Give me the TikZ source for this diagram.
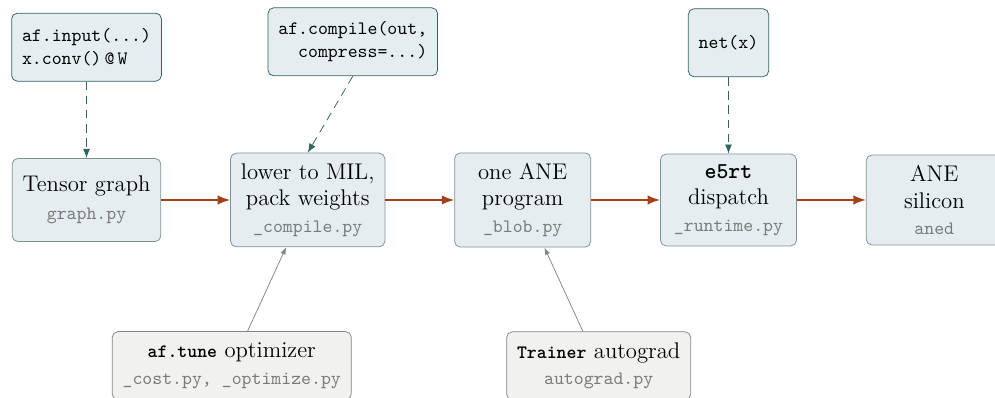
\documentclass[tikz,border=0pt]{standalone}
\usepackage{tikz}
\usetikzlibrary{arrows.meta, positioning}
\usepackage{xcolor}
\definecolor{StageFill}{HTML}{E6EDF0}
\definecolor{StageEdge}{HTML}{7D9296}
\definecolor{CallEdge}{HTML}{2F6461}
\definecolor{HelperFill}{HTML}{F1F1EF}
\definecolor{HelperEdge}{HTML}{858585}
\definecolor{FlowRed}{HTML}{A4401A}
\definecolor{FileGray}{HTML}{7A7A7A}
\tikzstyle{stage} = [rectangle, rounded corners=3pt, draw=StageEdge, fill=StageFill,
minimum width=2.53cm, minimum height=1.545cm, inner sep=5.5pt, align=center, font=\large]
\tikzstyle{call} = [rectangle, rounded corners=3pt, draw=CallEdge, fill=StageFill,
minimum height=1.265cm, inner sep=5.5pt, align=left, font=\ttfamily]
\tikzstyle{helper} = [rectangle, rounded corners=3pt, draw=HelperEdge, fill=HelperFill,
minimum height=1.265cm, inner sep=5.5pt, align=center, font=\large]
\tikzstyle{flow} = [-{Latex[scale=1]}, thick, draw=FlowRed]
\tikzstyle{hook} = [-{Latex[scale=1]}, draw=CallEdge, dash pattern=on 4.5pt off 3pt]
\tikzstyle{feed} = [-{Latex[scale=0.8]}, thin, draw=HelperEdge]
\newcommand{\srcfile}[1]{{\normalsize\ttfamily\color{FileGray}#1}}
\newcommand{\api}[1]{{\normalsize\ttfamily\bfseries #1}}

\begin{document}
\begin{tikzpicture}
   \useasboundingbox (-1.609,3.719) rectangle (16.894,-3.682);
   % pipeline
   \node[stage] (graph) at (0,0) {Tensor graph\\[1pt]\srcfile{graph.py}};
   \node[stage, right=1.283cm of graph] (lower) {lower to MIL,\\ pack weights\\\srcfile{\_compile.py}};
   \node[stage, right=1.283cm of lower] (blob) {one ANE\\ program\\\srcfile{\_blob.py}};
   \node[stage, right=1.283cm of blob] (e5rt) {{\ttfamily\bfseries e5rt}\\ dispatch\\\srcfile{\_runtime.py}};
   \node[stage, right=1.283cm of e5rt] (silicon) {ANE\\ silicon\\\srcfile{aned}};
   % user calls
   \node[call, above=1.423cm of graph] (input) {af.input(...)\\ x.conv()\,@\,W};
   \node[call, above=1.423cm of lower, xshift=0.837cm] (compile) {af.compile(out,\\ ~~compress=...)};
   \node[call, above=1.423cm of e5rt] (netx) {net(x)};
   % helpers
   \node[helper, below=1.562cm of lower, xshift=-1.413cm] (tune) {\api{af.tune} optimizer\\ \srcfile{\_cost.py, \_optimize.py}};
   \node[helper, below=1.562cm of blob, xshift=1.413cm] (trainer) {\api{Trainer} autograd\\ \srcfile{autograd.py}};
   \draw[flow] (graph) -- (lower);
   \draw[flow] (lower) -- (blob);
   \draw[flow] (blob) -- (e5rt);
   \draw[flow] (e5rt) -- (silicon);
   \draw[hook] (input) -- (graph);
   \draw[hook] (compile.south) -- (lower.north);
   \draw[hook] (netx) -- (e5rt);
   \draw[feed] (tune) -- (lower);
   \draw[feed] (trainer) -- (blob);
\end{tikzpicture}
\end{document}
